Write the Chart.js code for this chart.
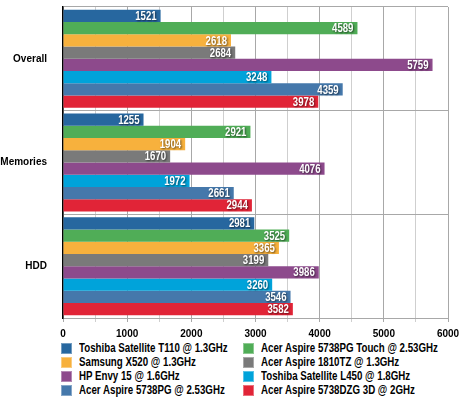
<!DOCTYPE html>
<html>
<head>
<meta charset="utf-8">
<script src="https://cdn.jsdelivr.net/npm/chart.js@4/dist/chart.umd.min.js"></script>
<style>
  body { margin: 0; background: #fff; }
  #wrap { position: relative; width: 460px; height: 400px; }
  #chartBox { position: absolute; left: 0; top: 0; width: 460px; height: 340px; }
  #legend {
    position: absolute; left: 61px; top: 342px;
    display: grid; grid-template-columns: 182px 200px; row-gap: 2px;
    font: bold 12px 'Liberation Sans', Arial, sans-serif;
    color: #000;
  }
  .item { display: flex; align-items: center; height: 12px; white-space: nowrap; }
  .box { width: 11px; height: 11px; margin-right: 7px; box-sizing: border-box; flex: none; }
  .txt { display: inline-block; transform: scaleX(0.81); transform-origin: left center; }
</style>
</head>
<body>
<div id="wrap">
  <div id="chartBox"><canvas id="benchChart"></canvas></div>
  <div id="legend"></div>
</div>
<script>
// Données
const categories = ['Overall', 'Memories', 'HDD'];
const laptops = [
  'Toshiba Satellite T110 @ 1.3GHz',
  'Acer Aspire 5738PG Touch @ 2.53GHz',
  'Samsung X520 @ 1.3GHz',
  'Acer Aspire 1810TZ @ 1.3GHz',
  'HP Envy 15 @ 1.6GHz',
  'Toshiba Satellite L450 @ 1.8GHz',
  'Acer Aspire 5738PG @ 2.53GHz',
  'Acer Aspire 5738DZG 3D @ 2GHz'
];
const overallScores  = [1521, 4589, 2618, 2684, 5759, 3248, 4359, 3978];
const memoriesScores = [1255, 2921, 1904, 1670, 4076, 1972, 2661, 2944];
const hddScores      = [2981, 3525, 3365, 3199, 3986, 3260, 3546, 3582];
const xTicks = [0, 1000, 2000, 3000, 4000, 5000, 6000];

const barColors = ['#27679f', '#50ad57', '#f7b13d', '#7a7a7a', '#8d4a8c', '#00a3da', '#4578ab', '#e12437'];
const axisFont = { family: "'Liberation Sans', Arial, sans-serif", size: 10, weight: 'bold' };

const datasets = laptops.map((name, i) => ({
  label: name,
  data: [overallScores[i], memoriesScores[i], hddScores[i]],
  backgroundColor: barColors[i],
  barPercentage: 1,
  categoryPercentage: 0.945
}));

// Valeurs en blanc au bout de chaque barre (police resserrée)
const valueLabels = {
  id: 'valueLabels',
  afterDatasetsDraw(chart) {
    const c = chart.ctx;
    const sx = 0.74;
    c.save();
    c.scale(sx, 1);
    c.font = "bold 13px 'Liberation Sans', Arial, sans-serif";
    c.textAlign = 'right';
    c.textBaseline = 'middle';
    c.fillStyle = '#fff';
    c.shadowColor = 'rgba(0,0,0,0.6)';
    c.shadowBlur = 2;
    c.shadowOffsetX = 1;
    c.shadowOffsetY = 1;
    chart.data.datasets.forEach((ds, i) => {
      chart.getDatasetMeta(i).data.forEach((bar, j) => {
        c.fillText(ds.data[j], (bar.x - 4) / sx, bar.y + 0.5);
      });
    });
    c.restore();
  }
};

new Chart(document.getElementById('benchChart'), {
  type: 'bar',
  data: { labels: categories, datasets: datasets },
  options: {
    indexAxis: 'y',
    responsive: true,
    maintainAspectRatio: false,
    animation: false,
    layout: { padding: { top: 7, right: 12, left: 0, bottom: 0 } },
    scales: {
      x: {
        min: 0, max: 6000,
        afterFit: s => { s.height = 22; s.paddingLeft = 0; s.paddingRight = 0; },
        afterBuildTicks: s => { s.ticks = []; for (let v = 0; v <= 6000; v += 500) s.ticks.push({ value: v }); },
        ticks: {
          autoSkip: false, maxRotation: 0, padding: 6, color: '#000', font: axisFont,
          callback: v => xTicks.includes(v) ? v : ''
        },
        grid: {
          color: c => (c.tick && c.tick.value % 1000 === 0) ? '#a8a8a8' : '#cfcfcf',
          tickLength: 4
        },
        border: { color: '#a8a8a8' }
      },
      y: {
        afterFit: s => { s.width = 63; s.paddingTop = 0; s.paddingBottom = 0; },
        ticks: { color: '#000', padding: 16, font: axisFont },
        grid: { color: '#a8a8a8', drawTicks: false },
        border: { color: '#000', width: 1.5 }
      }
    },
    plugins: {
      legend: { display: false },
      tooltip: { enabled: false }
    }
  },
  plugins: [valueLabels]
});

// Légende HTML sur deux colonnes
const legend = document.getElementById('legend');
laptops.forEach((name, i) => {
  const item = document.createElement('div');
  item.className = 'item';
  item.innerHTML = `<span class="box" style="background:${barColors[i]};border:1px solid rgba(255,255,255,0.35)"></span><span class="txt">${name}</span>`;
  legend.appendChild(item);
});
</script>
</body>
</html>
